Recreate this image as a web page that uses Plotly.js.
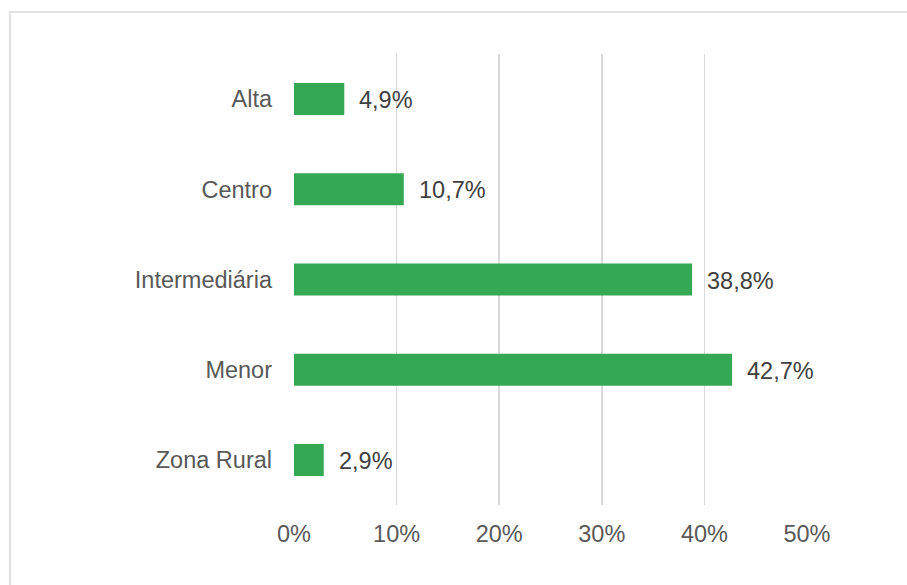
<!DOCTYPE html>
<html>
<head>
<meta charset="utf-8">
<script src="https://cdn.plot.ly/plotly-3.0.1.min.js"></script>
<style>
  html, body { margin: 0; padding: 0; background: #ffffff; overflow: hidden; }
  #wrap { position: relative; width: 907px; height: 585px; }
  #chart { width: 907px; height: 585px; }
  #frame { position: absolute; left: 9px; top: 11px; width: 1200px; height: 1200px;
           border-left: 2px solid #e2e2e2; border-top: 2px solid #e2e2e2; pointer-events: none; }
</style>
</head>
<body>
<div id="wrap">
  <div id="chart"></div>
  <div id="frame"></div>
</div>
<script>
const categories = ["Alta", "Centro", "Intermediária", "Menor", "Zona Rural"];
const values = [4.9, 10.7, 38.8, 42.7, 2.9];
const tickValues = [0, 10, 20, 30, 40, 50];
const tickLabels = ["0%", "10%", "20%", "30%", "40%", "50%"];

const fontFamily = "'Liberation Sans', Arial, sans-serif";

const trace = {
  type: "bar",
  orientation: "h",
  x: values,
  y: categories,
  marker: { color: "#34a853" },
  hoverinfo: "none"
};

const annotations = values.map((v, i) => ({
  x: v,
  y: categories[i],
  xref: "x",
  yref: "y",
  text: v.toFixed(1).replace(".", ",") + "%",
  showarrow: false,
  xanchor: "left",
  yanchor: "middle",
  xshift: 13,
  yshift: -1,
  font: { family: fontFamily, size: 23.5, color: "#404040" }
}));

const layout = {
  width: 907,
  height: 585,
  margin: { l: 294, r: 100, t: 54, b: 80 },
  paper_bgcolor: "#ffffff",
  plot_bgcolor: "#ffffff",
  showlegend: false,
  bargap: 0.645,
  xaxis: {
    range: [0, 50],
    tickvals: tickValues,
    ticktext: tickLabels,
    showgrid: true,
    gridcolor: "#d9d9d9",
    gridwidth: 1.5,
    zeroline: false,
    showline: false,
    ticks: "",
    ticklabelstandoff: 12,
    tickfont: { family: fontFamily, size: 23.5, color: "#595959" },
    fixedrange: true
  },
  yaxis: {
    categoryorder: "array",
    categoryarray: categories,
    autorange: "reversed",
    showgrid: false,
    zeroline: false,
    showline: false,
    ticks: "",
    ticklabelstandoff: 21,
    tickfont: { family: fontFamily, size: 23.5, color: "#595959" },
    fixedrange: true
  },
  annotations: annotations
};

Plotly.newPlot("chart", [trace], layout, { displayModeBar: false, staticPlot: true });
</script>
</body>
</html>
